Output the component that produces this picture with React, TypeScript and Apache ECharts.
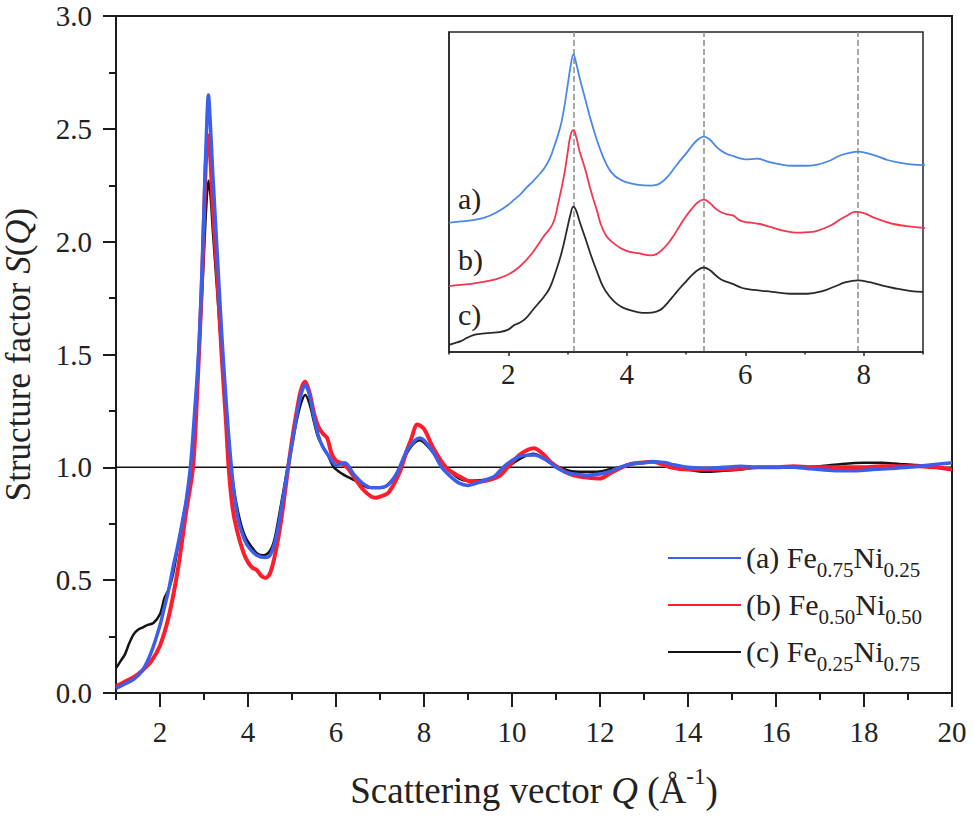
import React, { useEffect, useRef } from "react";
import * as echarts from "echarts";

const FONT = "'Liberation Serif', 'Times New Roman', Times, serif";

// Q (Å^-1) vs S(Q)
const curveA: [number, number][] = [
  [1.0, 0.02], [1.2, 0.04], [1.4, 0.06], [1.6, 0.1], [1.8, 0.18], [2.0, 0.3], [2.1, 0.38], [2.2, 0.46],
  [2.3, 0.56], [2.4, 0.65], [2.5, 0.75], [2.6, 0.86], [2.7, 1.02], [2.8, 1.28], [2.85, 1.42], [2.9, 1.6],
  [2.95, 1.85], [3.0, 2.15], [3.05, 2.45], [3.1, 2.65], [3.15, 2.5], [3.2, 2.3], [3.3, 1.95], [3.4, 1.6],
  [3.5, 1.3], [3.6, 1.05], [3.7, 0.86], [3.8, 0.75], [3.9, 0.69], [4.0, 0.65], [4.2, 0.61], [4.4, 0.6],
  [4.5, 0.61], [4.6, 0.66], [4.7, 0.75], [4.8, 0.87], [4.9, 0.99], [5.0, 1.1], [5.1, 1.22], [5.2, 1.32],
  [5.3, 1.365], [5.4, 1.32], [5.5, 1.22], [5.6, 1.14], [5.7, 1.09], [5.8, 1.06], [5.9, 1.03], [6.0, 1.01],
  [6.2, 1.02], [6.4, 0.97], [6.6, 0.93], [6.8, 0.91], [7.0, 0.91], [7.2, 0.925], [7.4, 0.98], [7.6, 1.07],
  [7.8, 1.12], [7.9, 1.13], [8.0, 1.12], [8.2, 1.07], [8.4, 1.0], [8.6, 0.96], [8.8, 0.93], [9.0, 0.92],
  [9.2, 0.93], [9.4, 0.945], [9.6, 0.96], [9.8, 1.0], [10.0, 1.03], [10.2, 1.05], [10.5, 1.055], [10.8, 1.03],
  [11.0, 1.0], [11.2, 0.98], [11.4, 0.97], [11.7, 0.965], [12.0, 0.97], [12.2, 0.98], [12.45, 1.0], [12.7, 1.015],
  [13.0, 1.02], [13.2, 1.025], [13.5, 1.02], [13.7, 1.01], [14.0, 1.0], [14.4, 0.995], [14.8, 1.0], [15.2, 1.005],
  [15.6, 1.0], [16.0, 1.0], [16.4, 1.0], [16.7, 0.995], [17.0, 0.99], [17.4, 0.985], [17.8, 0.985], [18.2, 0.99],
  [18.6, 0.995], [19.0, 1.0], [19.5, 1.01], [20.0, 1.02],
];

const curveB: [number, number][] = [
  [1.0, 0.03], [1.2, 0.05], [1.4, 0.07], [1.6, 0.1], [1.8, 0.14], [2.0, 0.21], [2.2, 0.34], [2.4, 0.54],
  [2.6, 0.81], [2.75, 1.0], [2.85, 1.35], [2.95, 1.8], [3.0, 2.1], [3.05, 2.38], [3.1, 2.47], [3.15, 2.35],
  [3.2, 2.15], [3.3, 1.85], [3.4, 1.5], [3.5, 1.2], [3.56, 1.0], [3.65, 0.82], [3.75, 0.72], [3.9, 0.62],
  [4.0, 0.58], [4.1, 0.555], [4.2, 0.545], [4.3, 0.52], [4.4, 0.51], [4.5, 0.53], [4.6, 0.6], [4.7, 0.7],
  [4.8, 0.83], [4.9, 0.98], [5.0, 1.12], [5.1, 1.24], [5.2, 1.34], [5.3, 1.38], [5.4, 1.33], [5.5, 1.24],
  [5.6, 1.18], [5.7, 1.15], [5.8, 1.13], [5.9, 1.06], [6.0, 1.03], [6.1, 1.02], [6.25, 1.0], [6.4, 0.96],
  [6.6, 0.905], [6.8, 0.87], [6.9, 0.865], [7.0, 0.87], [7.2, 0.89], [7.45, 0.98], [7.6, 1.07], [7.7, 1.12],
  [7.85, 1.19], [8.0, 1.17], [8.2, 1.09], [8.5, 1.0], [8.8, 0.96], [9.1, 0.935], [9.4, 0.94], [9.7, 0.96],
  [9.9, 1.0], [10.2, 1.06], [10.5, 1.085], [10.7, 1.06], [10.9, 1.02], [11.2, 0.98], [11.4, 0.965], [11.7, 0.955],
  [12.0, 0.95], [12.2, 0.97], [12.45, 0.995], [12.7, 1.015], [12.9, 1.02], [13.2, 1.025], [13.6, 1.0], [14.0, 0.99],
  [14.4, 0.99], [14.8, 0.99], [15.2, 0.995], [15.6, 1.0], [16.0, 1.0], [16.4, 1.005], [16.8, 1.0], [17.2, 1.0],
  [17.6, 1.0], [18.0, 1.0], [18.4, 1.005], [18.8, 1.005], [19.2, 1.005], [19.6, 1.0], [20.0, 0.99],
];

const curveC: [number, number][] = [
  [1.0, 0.11], [1.1, 0.14], [1.2, 0.17], [1.3, 0.22], [1.4, 0.26], [1.5, 0.28], [1.6, 0.29], [1.7, 0.3],
  [1.85, 0.31], [2.0, 0.35], [2.1, 0.42], [2.2, 0.46], [2.3, 0.53], [2.4, 0.64], [2.5, 0.75], [2.6, 0.86],
  [2.7, 1.0], [2.8, 1.25], [2.9, 1.55], [3.0, 1.95], [3.05, 2.15], [3.1, 2.27], [3.15, 2.2], [3.2, 2.05],
  [3.3, 1.78], [3.4, 1.5], [3.5, 1.25], [3.6, 1.02], [3.7, 0.88], [3.8, 0.78], [3.9, 0.71], [4.0, 0.67],
  [4.2, 0.62], [4.35, 0.61], [4.5, 0.63], [4.6, 0.68], [4.7, 0.78], [4.8, 0.89], [4.9, 1.0], [5.0, 1.1],
  [5.1, 1.2], [5.2, 1.28], [5.3, 1.32], [5.4, 1.28], [5.5, 1.2], [5.6, 1.13], [5.8, 1.06], [5.95, 1.0],
  [6.15, 0.97], [6.45, 0.94], [6.75, 0.91], [7.05, 0.91], [7.3, 0.95], [7.5, 1.02], [7.7, 1.09], [7.9, 1.12],
  [8.1, 1.09], [8.3, 1.04], [8.5, 1.0], [8.8, 0.95], [9.0, 0.94], [9.4, 0.945], [9.7, 0.96], [9.9, 1.0],
  [10.2, 1.04], [10.5, 1.06], [10.9, 1.015], [11.3, 0.985], [11.6, 0.98], [11.9, 0.98], [12.2, 0.99], [12.45, 1.0],
  [12.9, 1.02], [13.2, 1.025], [13.7, 1.01], [14.0, 0.99], [14.4, 0.98], [14.8, 0.985], [15.2, 0.99], [15.6, 1.0],
  [16.0, 1.0], [16.5, 1.0], [17.0, 1.005], [17.5, 1.015], [18.0, 1.02], [18.4, 1.02], [18.8, 1.015], [19.2, 1.01],
  [19.6, 1.0], [20.0, 0.99],
];

const refLine: [number, number][] = [[1, 1], [20, 1]];

const seriesKeys = ["a", "b", "c"];
const legendTexts: Record<string, string> = {
  a: "{m|(a) Fe}{s|0.75}{m|Ni}{s|0.25}",
  b: "{m|(b) Fe}{s|0.50}{m|Ni}{s|0.50}",
  c: "{m|(c) Fe}{s|0.25}{m|Ni}{s|0.75}",
};

// inset: same curves, vertically offset
const insetOffsets: Record<string, number> = { a: 2, b: 1, c: 0 };
const insetLabels = ["a)", "b)", "c)"];
const insetPeaks = [3.1, 5.3, 7.9];

const mainXTicks = [2, 4, 6, 8, 10, 12, 14, 16, 18, 20];
const mainXMinor = [1, 3, 5, 7, 9, 11, 13, 15, 17, 19];
const insetXTicks = [2, 4, 6, 8];
const insetXMinor = [1, 3, 5, 7, 9];

const AXIS = "#1c1c1c";
const TXT = "#222";

export default function App() {
  const ref = useRef<HTMLDivElement>(null);
  useEffect(() => {
    if (!ref.current) return;
    const chart = echarts.init(ref.current, undefined, { renderer: "svg" });
    const curves: Record<string, [number, number][]> = { a: curveA, b: curveB, c: curveC };
    const mainColors: Record<string, string> = { a: "#3d5ee8", b: "#ff1c2c", c: "#141414" };
    const mainWidths: Record<string, number> = { a: 3.5, b: 4, c: 2.5 };
    const insetColors: Record<string, string> = { a: "#4a88e8", b: "#f43650", c: "#2a2a2a" };

    const drawOrder = ["c", "b", "a"];
    const mainSeries = drawOrder.map((k) => ({
      name: k,
      type: "line",
      xAxisIndex: 0,
      yAxisIndex: 0,
      data: curves[k],
      symbol: "none",
      smooth: 0.3,
      lineStyle: { color: mainColors[k], width: mainWidths[k] },
      itemStyle: { color: mainColors[k] },
      z: 3,
    }));
    const insetSeries = drawOrder.map((k) => ({
      name: "inset-" + k,
      type: "line",
      xAxisIndex: 2,
      yAxisIndex: 1,
      data: curves[k].filter((p) => p[0] <= 9.3).map((p) => [p[0], p[1] + insetOffsets[k]]),
      symbol: "none",
      smooth: 0.4,
      clip: true,
      lineStyle: { color: insetColors[k], width: 1.8 },
      itemStyle: { color: insetColors[k] },
      z: 5,
      ...(k === "c"
        ? {
            markLine: {
              silent: true,
              symbol: "none",
              label: { show: false },
              lineStyle: { type: "dashed", color: "#8c8c8c", width: 1.5 },
              data: insetPeaks.map((x) => ({ xAxis: x })),
            },
          }
        : {}),
    }));

    const labelYs = [200, 261, 316];

    chart.setOption({
      animation: false,
      backgroundColor: "#ffffff",
      textStyle: { fontFamily: FONT },
      grid: [
        { left: 116, top: 16, width: 836, height: 677, outerBoundsMode: "none", containLabel: false, show: true, borderColor: AXIS, borderWidth: 2, backgroundColor: "transparent" },
        { left: 449, top: 32, width: 474, height: 320, outerBoundsMode: "none", containLabel: false, show: true, borderColor: "#262626", borderWidth: 1.5, backgroundColor: "#ffffff", z: 4 },
      ],
      xAxis: [
        {
          type: "value",
          gridIndex: 0,
          position: "bottom",
          min: 1,
          max: 20,
          axisLine: { lineStyle: { color: AXIS, width: 2 } },
          axisTick: { customValues: mainXTicks, length: 14, lineStyle: { color: AXIS, width: 2 } },
          axisLabel: { customValues: mainXTicks, fontSize: 29, margin: 24, color: TXT, fontFamily: FONT },
          splitLine: { show: false },
          name: "{n|Scattering vector }{i|Q}{n| (Å}{sup|-1}{n|)}",
          nameLocation: "middle",
          nameGap: 72,
          nameTextStyle: {
            fontFamily: FONT,
            fontSize: 37,
            color: TXT,
            rich: {
              n: { fontFamily: FONT, fontSize: 37, color: TXT, lineHeight: 44, verticalAlign: "bottom" },
              i: { fontFamily: FONT, fontSize: 37, color: TXT, fontStyle: "italic", lineHeight: 44, verticalAlign: "bottom" },
              sup: { fontFamily: FONT, fontSize: 23, color: TXT, lineHeight: 23, verticalAlign: "top" },
            },
          },
        },
        {
          type: "value",
          gridIndex: 0,
          position: "bottom",
          min: 1,
          max: 20,
          axisLine: { show: false },
          axisTick: { customValues: mainXMinor, length: 7, lineStyle: { color: AXIS, width: 2 } },
          axisLabel: { show: false },
          splitLine: { show: false },
        },
        {
          type: "value",
          gridIndex: 1,
          position: "bottom",
          min: 1,
          max: 9,
          axisLine: { lineStyle: { color: "#262626", width: 1.5 } },
          axisTick: { customValues: insetXTicks, length: 4, lineStyle: { color: "#262626", width: 1.5 } },
          axisLabel: { customValues: insetXTicks, fontSize: 29, margin: 7, color: TXT, fontFamily: FONT },
          splitLine: { show: false },
          z: 5,
        },
        {
          type: "value",
          gridIndex: 1,
          position: "bottom",
          min: 1,
          max: 9,
          axisLine: { show: false },
          axisTick: { customValues: insetXMinor, length: 2.5, lineStyle: { color: "#262626", width: 1.5 } },
          axisLabel: { show: false },
          splitLine: { show: false },
          z: 5,
        },
      ],
      yAxis: [
        {
          type: "value",
          gridIndex: 0,
          position: "left",
          min: 0,
          max: 3,
          interval: 0.5,
          axisLine: { show: true, lineStyle: { color: AXIS, width: 2 } },
          axisTick: { show: true, length: 13, lineStyle: { color: AXIS, width: 2 } },
          minorTick: { show: true, splitNumber: 2, length: 7, lineStyle: { color: AXIS, width: 2 } },
          axisLabel: { fontSize: 29, margin: 24, color: TXT, fontFamily: FONT, formatter: (v: number) => v.toFixed(1) },
          splitLine: { show: false },
          minorSplitLine: { show: false },
          name: "{n|Structure factor }{i|S}{n|(}{i|Q}{n|)}",
          nameLocation: "middle",
          nameGap: 80,
          nameTextStyle: {
            fontFamily: FONT,
            fontSize: 35,
            color: TXT,
            rich: {
              n: { fontFamily: FONT, fontSize: 35, color: TXT },
              i: { fontFamily: FONT, fontSize: 35, color: TXT, fontStyle: "italic" },
            },
          },
        },
        {
          type: "value",
          gridIndex: 1,
          position: "left",
          min: 0,
          max: 5,
          axisLine: { show: true, lineStyle: { color: "#262626", width: 1.5 } },
          axisTick: { show: false },
          axisLabel: { show: false },
          splitLine: { show: false },
          z: 5,
        },
      ],
      legend: {
        data: seriesKeys,
        orient: "vertical",
        left: 662,
        top: 537,
        itemWidth: 73,
        itemHeight: 4,
        itemGap: 9,
        selectedMode: false,
        itemStyle: { opacity: 0 },
        formatter: (name: string) => legendTexts[name],
        textStyle: {
          fontFamily: FONT,
          color: TXT,
          rich: {
            m: { fontFamily: FONT, fontSize: 30, color: TXT, lineHeight: 32, verticalAlign: "top" },
            s: { fontFamily: FONT, fontSize: 21, color: TXT, lineHeight: 21, verticalAlign: "top", padding: [17, 0, 0, 0] },
          },
        },
      },
      graphic: insetLabels.map((t, i) => ({
        type: "text",
        left: 458,
        top: labelYs[i] - 17,
        z: 10,
        style: { text: t, fontFamily: FONT, fontSize: 30, fill: TXT },
      })),
      series: [
        {
          name: "ref",
          type: "line",
          xAxisIndex: 0,
          yAxisIndex: 0,
          data: refLine,
          symbol: "none",
          silent: true,
          lineStyle: { color: "#111", width: 1.5 },
          z: 2,
        },
        ...mainSeries,
        ...insetSeries,
      ],
    });
    return () => chart.dispose();
  }, []);
  return (
    <div
      ref={ref}
      style={{ position: "fixed", left: 0, top: 0, width: 973, height: 816, background: "#fff" }}
    />
  );
}
